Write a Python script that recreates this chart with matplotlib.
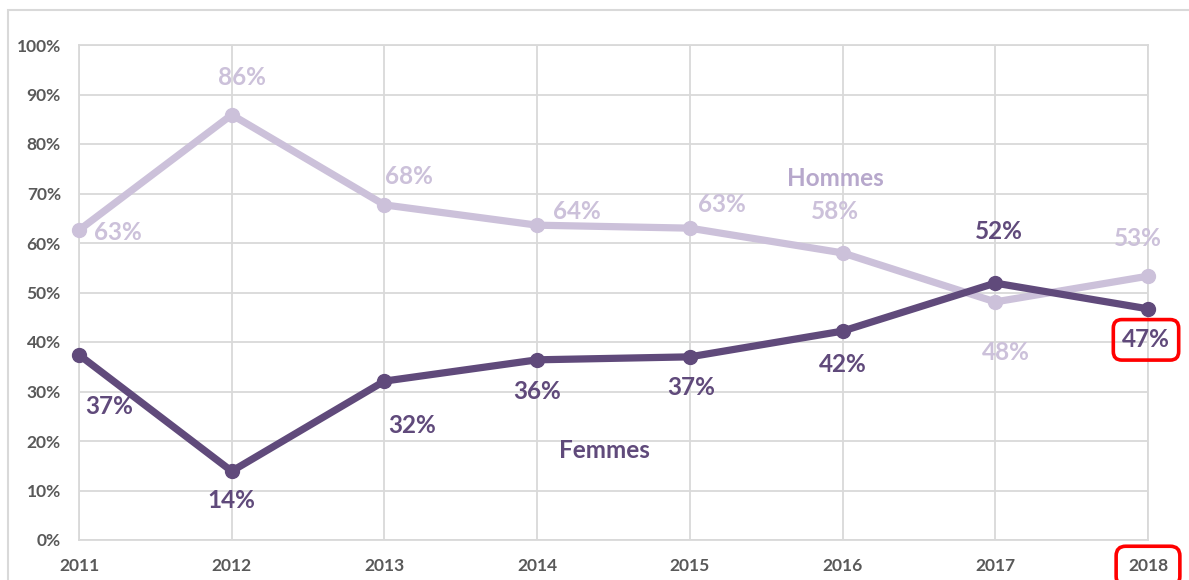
import matplotlib
matplotlib.use("Agg")
import matplotlib.pyplot as plt
from matplotlib.patches import Rectangle
from matplotlib.ticker import FuncFormatter

# ---- data ----
years = ["2011", "2012", "2013", "2014", "2015", "2016", "2017", "2018"]
hommes = [62.6, 85.9, 67.7, 63.6, 63.0, 58.0, 48.1, 53.3]
femmes = [37.4, 13.9, 32.1, 36.4, 37.0, 42.2, 51.9, 46.7]
hommes_labels = ["63%", "86%", "68%", "64%", "63%", "58%", "48%", "53%"]
femmes_labels = ["37%", "14%", "32%", "36%", "37%", "42%", "52%", "47%"]
yticks = [0, 10, 20, 30, 40, 50, 60, 70, 80, 90, 100]

# label offsets in pixels (dx, dy up)
h_off = [(39, -2), (10, 37), (25, 28), (40, 14), (32, 24), (-8, 41), (11, -51), (-10, 38)]
f_off = [(30, -52), (0, -29), (28, -44), (0, -32), (1, -31), (0, -33), (4, 52), (-2, -31)]

C_H = "#CCC1DA"
C_H_NAME = "#B7A8CC"
C_F = "#604A7B"
C_GRID = "#D9D9D9"
C_TICK = "#595959"
FONT = "Lato"
LBL = 17.5

W, H = 1189, 580
fig = plt.figure(figsize=(W / 100, H / 100), dpi=100)
ax = fig.add_axes([79 / W, 40 / H, (1148 - 79) / W, 495 / H])

x = list(range(len(years)))
ax.plot(x, hommes, color=C_H, lw=5.2, marker="o", ms=10, clip_on=False, zorder=3,
        solid_capstyle="round")
ax.plot(x, femmes, color=C_F, lw=5.2, marker="o", ms=10, clip_on=False, zorder=4,
        solid_capstyle="round")

ax.set_xlim(0, len(years) - 1)
ax.set_ylim(0, 100)
ax.set_yticks(yticks)
ax.yaxis.set_major_formatter(FuncFormatter(lambda v, p: f"{v:.0f}%"))
ax.set_xticks(x)
ax.set_xticklabels(years)
ax.grid(True, color=C_GRID, lw=1.3)
ax.set_axisbelow(True)
for s in ax.spines.values():
    s.set_color(C_GRID)
    s.set_linewidth(1.3)
ax.tick_params(length=0, labelcolor=C_TICK)
ax.tick_params(axis="y", pad=13)
ax.tick_params(axis="x", pad=13)
for lab in ax.get_xticklabels() + ax.get_yticklabels():
    lab.set_fontfamily(FONT)
    lab.set_fontweight("bold")
    lab.set_fontsize(12.5)

k = 72 / 100
for i, (v, t, (dx, dy)) in enumerate(zip(hommes, hommes_labels, h_off)):
    ax.annotate(t, (x[i], v), xytext=(dx * k, dy * k), textcoords="offset points",
                ha="center", va="center", color=C_H, fontsize=LBL,
                fontfamily=FONT, fontweight="bold", annotation_clip=False, zorder=5)
for i, (v, t, (dx, dy)) in enumerate(zip(femmes, femmes_labels, f_off)):
    kw = {}
    if i == len(femmes) - 1:
        kw["bbox"] = dict(boxstyle="round,pad=0.36,rounding_size=0.35", fc="none",
                          ec="#FF0000", lw=2.6)
    ax.annotate(t, (x[i], v), xytext=(dx * k, dy * k), textcoords="offset points",
                ha="center", va="center", color=C_F, fontsize=LBL,
                fontfamily=FONT, fontweight="bold", annotation_clip=False, zorder=5, **kw)

# series names
ax.text(4.95, 73.1, "Hommes", color=C_H_NAME, fontsize=LBL, fontfamily=FONT,
        fontweight="bold", ha="center", va="center")
ax.text(3.44, 18.0, "Femmes", color=C_F, fontsize=LBL, fontfamily=FONT,
        fontweight="bold", ha="center", va="center")

# highlight last x tick label
last = ax.get_xticklabels()[-1]
last.set_bbox(dict(boxstyle="round,pad=0.68,rounding_size=0.55", fc="none",
                   ec="#FF0000", lw=2.6))

# outer chart border
fig.patches.append(Rectangle((8 / W, -0.2), 2, 1.2 - 10 / H, transform=fig.transFigure,
                             fill=False, ec=C_GRID, lw=1.5))

fig.savefig("out.png", dpi=100)
